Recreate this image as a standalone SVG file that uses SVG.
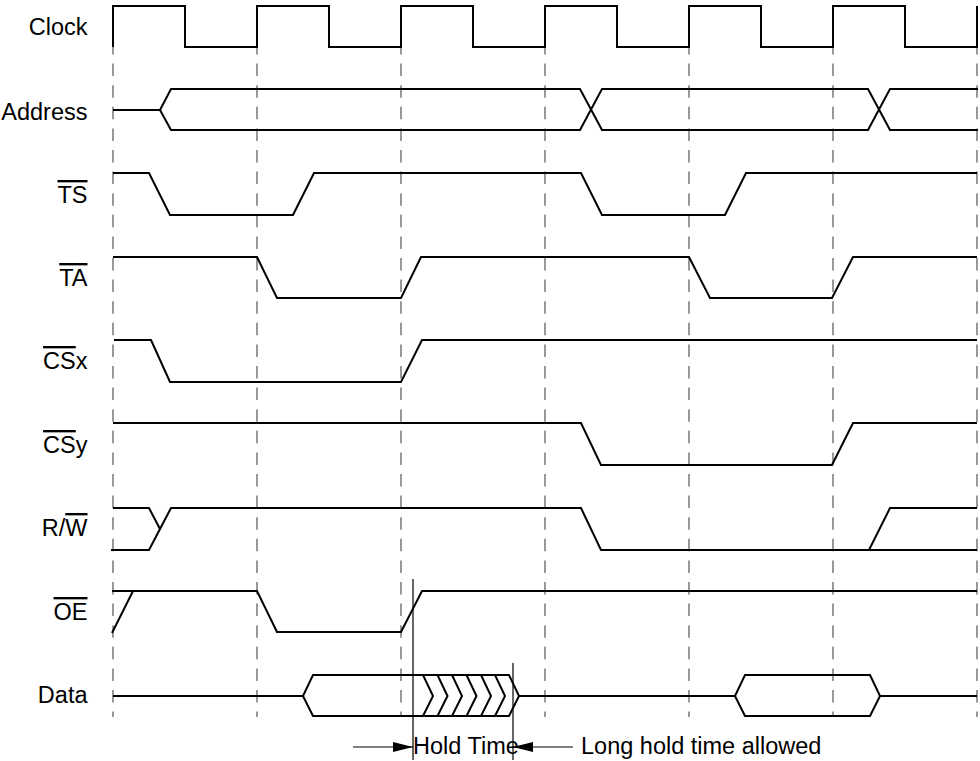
<svg xmlns="http://www.w3.org/2000/svg" width="980" height="761" viewBox="0 0 980 761">
<defs>
<style>
.sig{fill:none;stroke:#000;stroke-width:2;stroke-linejoin:miter}
.grid{stroke:#555;stroke-width:1.2;stroke-dasharray:12.5 9.1}
.thin{stroke:#000;stroke-width:1.2;fill:none}
.lbl{font-family:"Liberation Sans",Arial,sans-serif;font-size:23.5px;fill:#000}
.ov{text-decoration:overline}
</style>
<marker id="ah" viewBox="0 0 20 10" refX="20" refY="5" markerWidth="20" markerHeight="10" markerUnits="userSpaceOnUse" orient="auto">
<path d="M0,0 L20,5 L0,10 Z" fill="#000"/>
</marker>
</defs>
<rect width="980" height="761" fill="#fff"/>
<g id="gridlines">
<line class="grid" x1="113" y1="42" x2="113" y2="717"/>
<line class="grid" x1="257" y1="42" x2="257" y2="717"/>
<line class="grid" x1="401" y1="42" x2="401" y2="717"/>
<line class="grid" x1="545" y1="42" x2="545" y2="717"/>
<line class="grid" x1="689" y1="42" x2="689" y2="717"/>
<line class="grid" x1="833" y1="42" x2="833" y2="717"/>
<line class="grid" x1="977" y1="42" x2="977" y2="717"/>
</g>
<g id="clock">
<text class="lbl" x="87.5" y="35" text-anchor="end">Clock</text>
<path class="sig" d="M113,47 V6 H185 V47 H257 V6 H329 V47 H401 V6 H473 V47 H545 V6 H617 V47 H689 V6 H761 V47 H833 V6 H905 V47 H977 V6"/>
</g>
<g id="address">
<text class="lbl" x="87.5" y="120" text-anchor="end">Address</text>
<path class="sig" d="M113,110 H160 L171,89 H580 L602,130 H868 L890,89 H978"/>
<path class="sig" d="M160,110 L171,130 H580 L602,89 H868 L890,130 H978"/>
</g>
<g id="ts">
<text class="lbl" x="87.5" y="203" text-anchor="end"><tspan class="ov">TS</tspan></text>
<path class="sig" d="M113,173 H149 L170,215 H293 L314,173 H581 L602,215 H725 L746,173 H977"/>
</g>
<g id="ta">
<text class="lbl" x="87.5" y="286" text-anchor="end"><tspan class="ov">TA</tspan></text>
<path class="sig" d="M113,257 H257 L277,298 H401 L421,257 H689 L710,298 H832 L853,257 H977"/>
</g>
<g id="csx">
<text class="lbl" x="87.5" y="369" text-anchor="end"><tspan class="ov">CS</tspan>x</text>
<path class="sig" d="M114,340 H151 L170,382 H401 L422,340 H977"/>
</g>
<g id="csy">
<text class="lbl" x="87.5" y="453" text-anchor="end"><tspan class="ov">CS</tspan>y</text>
<path class="sig" d="M113,423 H581 L601,465 H832 L853,423 H977"/>
</g>
<g id="rw">
<text class="lbl" x="87.5" y="536" text-anchor="end">R/<tspan class="ov">W</tspan></text>
<path class="sig" d="M113,508 H149 L160,529"/>
<path class="sig" d="M111,550 H149 L171,508 H581 L601,550 H977"/>
<path class="sig" d="M869,550 L890,508 H977"/>
</g>
<g id="oe">
<text class="lbl" x="87.5" y="620" text-anchor="end"><tspan class="ov">OE</tspan></text>
<path class="sig" d="M112,633 L133,591"/>
<path class="sig" d="M112,591 H257 L277,632 H401 L422,591 H977"/>
</g>
<g id="data">
<text class="lbl" x="87.5" y="703" text-anchor="end">Data</text>
<path class="sig" d="M113,696 H303 L313,675 H509 L519,696 H735 L745,675 H870 L880,696 H977"/>
<path class="sig" d="M303,696 L313,716 H509 L519,696"/>
<path class="sig" d="M735,696 L745,716 H870 L880,696"/>
<path class="sig" d="M423,675 L433,696 L423,716 M437.5,675 L447.5,696 L437.5,716 M452,675 L462,696 L452,716 M466.5,675 L476.5,696 L466.5,716 M481,675 L491,696 L481,716 M495,675 L505,696 L495,716"/>
</g>
<g id="hold-time">
<line class="thin" x1="413" y1="579" x2="413" y2="760"/>
<line class="thin" x1="513" y1="663" x2="513" y2="760"/>
<text class="lbl" x="413" y="754">Hold Time</text>
<text class="lbl" x="581" y="754">Long hold time allowed</text>
</g>
<g id="connectors">
<line class="thin" x1="353" y1="747" x2="413" y2="747" marker-end="url(#ah)"/>
<line class="thin" x1="573" y1="747" x2="513" y2="747" marker-end="url(#ah)"/>
</g>
</svg>
